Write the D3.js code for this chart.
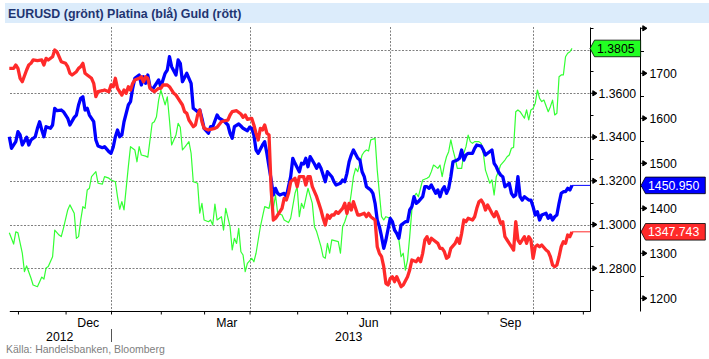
<!DOCTYPE html>
<html><head><meta charset="utf-8">
<script src="https://cdn.jsdelivr.net/npm/d3@7"></script>
<style>
html,body{margin:0;padding:0;background:#fff;}
svg{display:block;font-family:"Liberation Sans",Arial,sans-serif;}
</style></head><body>
<svg id="chart" width="709" height="359"></svg>
<script>
// ---------- DATA ----------
const title = "EURUSD (grönt) Platina (blå) Guld (rött)";
const source = "Källa: Handelsbanken, Bloomberg";
// x = trading day (weekday) count since 2012-10-26
const startDate = new Date(2012, 9, 26);
const axisEndDay = 268.3;

const eurusd = [[0,1.2963],[2,1.2911],[3,1.2967],[4,1.2962],[6,1.2870],[7,1.2785],[8,1.2811],[10,1.2756],[11,1.2724],[13,1.2716],[15,1.2760],[16,1.2751],[17,1.2802],[18,1.2808],[20,1.2853],[21,1.2975],[23,1.2952],[24,1.2945],[25,1.2983],[27,1.3067],[28,1.3090],[30,1.3052],[31,1.2937],[32,1.2945],[33,1.3021],[34,1.3082],[35,1.3074],[36,1.3158],[37,1.3166],[38,1.3219],[40,1.3242],[41,1.3189],[43,1.3185],[44,1.3219],[46,1.3212],[47,1.3204],[49,1.3196],[50,1.3127],[51,1.3070],[52,1.3105],[53,1.3067],[55,1.3265],[56,1.3356],[58,1.3341],[59,1.3287],[60,1.3356],[61,1.3318],[63,1.3313],[64,1.3308],[66,1.3463],[67,1.3470],[68,1.3493],[69,1.3569],[70,1.3615],[72,1.3547],[73,1.3584],[74,1.3478],[75,1.3364],[77,1.3409],[78,1.3463],[79,1.3445],[80,1.3341],[81,1.3353],[83,1.3379],[84,1.3326],[85,1.3196],[87,1.3189],[88,1.3052],[89,1.3097],[90,1.3021],[92,1.3013],[93,1.3021],[94,1.2998],[95,1.3094],[96,1.3021],[98,1.3036],[99,1.2975],[100,1.3074],[102,1.2990],[103,1.2884],[104,1.2937],[105,1.2914],[106,1.2983],[107,1.2876],[108,1.2861],[109,1.2785],[110,1.2823],[112,1.2846],[113,1.2830],[114,1.2869],[116,1.2990],[117,1.3036],[118,1.3082],[120,1.3074],[121,1.3127],[122,1.3074],[123,1.3135],[124,1.3052],[126,1.3044],[127,1.3021],[129,1.3009],[130,1.3029],[132,1.3143],[133,1.3173],[134,1.3036],[135,1.3097],[136,1.3074],[137,1.3120],[138,1.3166],[140,1.3097],[141,1.2990],[142,1.2968],[144,1.2899],[145,1.2853],[146,1.2846],[147,1.2914],[148,1.2869],[149,1.2930],[152,1.2922],[153,1.2869],[154,1.2990],[155,1.3013],[156,1.3044],[157,1.3074],[158,1.3143],[159,1.3219],[160,1.3257],[161,1.3242],[162,1.3280],[163,1.3318],[164,1.3333],[165,1.3341],[166,1.3336],[167,1.3387],[169,1.3394],[170,1.3249],[171,1.3143],[172,1.3036],[173,1.3021],[174,1.3036],[176,1.3029],[177,1.2998],[180,1.2930],[181,1.2853],[182,1.2869],[183,1.2792],[184,1.2838],[185,1.2945],[186,1.3067],[187,1.3127],[188,1.3143],[189,1.3127],[190,1.3166],[191,1.3204],[193,1.3212],[194,1.3219],[195,1.3242],[196,1.3272],[197,1.3265],[198,1.3257],[199,1.3272],[200,1.3219],[201,1.3272],[202,1.3310],[203,1.3333],[204,1.3387],[205,1.3341],[206,1.3303],[207,1.3257],[208,1.3257],[209,1.3257],[210,1.3326],[211,1.3356],[212,1.3409],[213,1.3379],[214,1.3371],[215,1.3379],[217,1.3379],[218,1.3371],[219,1.3326],[220,1.3249],[221,1.3219],[222,1.3189],[223,1.3204],[224,1.3135],[225,1.3219],[226,1.3242],[227,1.3272],[229,1.3295],[230,1.3310],[231,1.3318],[232,1.3349],[233,1.3353],[234,1.3516],[235,1.3524],[236,1.3516],[238,1.3486],[239,1.3524],[240,1.3478],[241,1.3524],[242,1.3531],[243,1.3554],[244,1.3615],[245,1.3577],[246,1.3562],[247,1.3569],[249,1.3516],[250,1.3539],[251,1.3569],[252,1.3501],[253,1.3509],[254,1.3676],[255,1.3684],[256,1.3684],[257,1.3767],[258,1.3783],[259,1.3790],[260,1.3805]];

const platina = [[0,1559.1],[1,1533.3],[3,1548.0],[4,1570.2],[5,1562.9],[6,1540.7],[8,1557.8],[9,1540.7],[10,1551.8],[12,1559.1],[13,1577.8],[14,1592.4],[15,1574.0],[16,1559.1],[17,1581.3],[19,1577.8],[20,1585.1],[21,1622.2],[22,1616.9],[24,1618.4],[25,1614.7],[27,1600.0],[28,1585.1],[30,1602.2],[31,1607.3],[32,1629.6],[33,1644.4],[34,1648.0],[35,1618.4],[36,1622.2],[37,1607.3],[39,1592.4],[40,1551.8],[41,1538.4],[43,1534.7],[44,1536.9],[46,1525.8],[47,1522.2],[48,1535.6],[49,1559.1],[50,1574.0],[51,1559.1],[52,1562.9],[53,1592.4],[55,1629.6],[56,1636.9],[57,1666.7],[58,1688.9],[60,1696.2],[61,1674.0],[62,1692.4],[63,1677.8],[64,1696.2],[65,1670.2],[66,1662.9],[67,1670.2],[69,1685.1],[70,1670.2],[71,1685.1],[72,1700.0],[73,1707.3],[74,1736.9],[75,1714.7],[77,1696.2],[78,1729.6],[79,1722.2],[80,1681.3],[82,1700.0],[84,1677.8],[85,1622.2],[87,1614.7],[88,1618.4],[89,1600.0],[90,1577.8],[92,1566.7],[93,1581.3],[94,1581.3],[96,1607.3],[97,1600.0],[99,1594.7],[101,1585.1],[102,1566.7],[103,1555.6],[104,1581.3],[106,1587.3],[107,1582.9],[108,1577.8],[110,1572.4],[111,1580.0],[112,1577.8],[113,1562.9],[114,1529.6],[115,1522.2],[117,1540.7],[118,1548.0],[119,1522.2],[120,1492.4],[121,1462.9],[122,1429.6],[123,1444.4],[124,1433.3],[125,1429.6],[127,1433.3],[128,1425.8],[129,1448.0],[130,1470.2],[131,1511.1],[132,1500.0],[134,1481.3],[135,1500.0],[136,1498.4],[137,1511.1],[138,1492.4],[139,1514.7],[141,1498.4],[142,1488.9],[143,1498.4],[144,1488.9],[145,1474.0],[146,1459.1],[147,1481.3],[149,1470.2],[150,1459.1],[151,1451.8],[153,1455.6],[154,1462.9],[155,1459.1],[156,1477.8],[157,1503.6],[158,1518.4],[159,1529.6],[161,1511.1],[162,1507.3],[163,1481.3],[164,1470.2],[165,1448.0],[166,1444.4],[167,1440.7],[168,1433.3],[169,1411.1],[170,1374.0],[171,1359.1],[172,1336.9],[173,1311.1],[174,1329.6],[176,1377.8],[177,1370.2],[178,1351.8],[179,1344.4],[180,1333.3],[181,1362.9],[183,1370.2],[184,1370.2],[185,1396.2],[186,1403.6],[187,1425.8],[188,1411.1],[189,1414.7],[191,1425.8],[192,1448.0],[193,1448.0],[194,1444.4],[195,1451.8],[197,1433.3],[198,1440.7],[199,1425.8],[200,1440.7],[201,1448.0],[202,1433.3],[203,1444.4],[204,1470.2],[205,1503.6],[207,1507.3],[208,1511.1],[209,1529.6],[210,1507.3],[211,1518.4],[212,1522.2],[214,1522.2],[215,1533.3],[216,1540.7],[218,1538.4],[219,1529.6],[220,1518.4],[221,1522.2],[223,1529.6],[224,1500.0],[225,1492.4],[226,1481.3],[227,1474.0],[228,1470.2],[229,1448.0],[231,1455.6],[232,1433.3],[233,1425.8],[234,1429.6],[235,1470.2],[236,1425.8],[237,1418.4],[238,1425.8],[240,1418.4],[241,1418.4],[242,1403.6],[243,1385.1],[244,1392.4],[245,1374.0],[246,1385.1],[248,1388.9],[249,1377.8],[250,1385.1],[251,1374.0],[252,1381.3],[253,1385.1],[254,1411.1],[255,1433.3],[256,1436.9],[257,1436.9],[258,1444.4],[259,1440.7],[260,1450.95]];

const guld = [[0,1711.1],[2,1711.1],[3,1718.4],[4,1711.1],[5,1688.9],[6,1681.3],[8,1707.3],[9,1718.4],[10,1722.2],[11,1729.6],[13,1728.0],[15,1729.6],[16,1718.4],[17,1733.3],[18,1729.6],[20,1736.9],[21,1751.8],[22,1748.0],[23,1736.9],[24,1725.8],[26,1722.2],[27,1714.7],[28,1700.0],[29,1696.2],[31,1703.6],[32,1711.1],[33,1714.7],[34,1722.2],[35,1700.0],[36,1696.2],[38,1688.9],[39,1677.8],[40,1648.0],[41,1659.1],[43,1661.3],[44,1662.9],[46,1659.1],[47,1674.0],[48,1670.2],[49,1688.9],[50,1666.7],[52,1651.8],[53,1662.9],[54,1655.6],[55,1670.2],[56,1662.9],[57,1677.8],[58,1685.1],[60,1688.9],[61,1692.4],[62,1681.3],[63,1692.4],[64,1688.9],[65,1666.7],[67,1659.1],[68,1662.9],[69,1666.7],[70,1666.7],[71,1674.0],[73,1674.0],[74,1670.2],[76,1655.6],[77,1651.8],[78,1644.4],[80,1629.6],[81,1614.7],[82,1611.1],[83,1596.2],[85,1581.3],[86,1585.1],[87,1607.3],[88,1618.4],[89,1592.4],[90,1577.8],[92,1574.0],[93,1575.6],[95,1577.8],[96,1580.0],[98,1592.4],[99,1594.0],[101,1596.2],[102,1607.3],[103,1614.7],[105,1616.9],[107,1609.6],[108,1602.2],[109,1607.3],[110,1597.8],[112,1600.0],[113,1585.1],[114,1566.7],[115,1551.8],[116,1577.8],[117,1574.0],[118,1585.1],[119,1566.7],[120,1562.9],[121,1440.7],[122,1374.0],[123,1377.8],[124,1385.1],[126,1400.0],[127,1422.2],[128,1418.4],[129,1433.3],[130,1459.1],[131,1462.9],[132,1466.7],[133,1448.0],[134,1470.2],[136,1470.2],[137,1451.8],[138,1470.2],[139,1470.2],[140,1448.0],[142,1425.8],[143,1411.1],[144,1396.2],[145,1377.8],[146,1362.9],[147,1385.1],[148,1377.8],[149,1385.1],[150,1385.1],[151,1392.4],[152,1388.9],[154,1400.0],[155,1411.1],[156,1388.9],[157,1411.1],[158,1396.2],[159,1414.7],[161,1385.1],[162,1385.1],[164,1388.9],[165,1381.3],[166,1388.9],[167,1381.3],[169,1374.0],[170,1314.7],[171,1300.0],[172,1292.4],[173,1270.2],[174,1233.3],[175,1229.6],[176,1244.0],[177,1248.0],[178,1236.9],[179,1248.0],[181,1225.8],[182,1229.6],[184,1248.0],[185,1262.9],[186,1285.1],[188,1281.3],[189,1288.9],[190,1281.3],[191,1300.0],[192,1329.6],[193,1336.9],[194,1322.2],[195,1333.3],[196,1329.6],[198,1322.2],[199,1311.1],[200,1311.1],[201,1303.6],[202,1288.9],[203,1292.4],[204,1311.1],[206,1322.2],[207,1333.3],[208,1322.2],[209,1344.4],[210,1374.0],[211,1370.2],[212,1377.8],[214,1374.0],[215,1381.3],[216,1400.0],[217,1414.7],[218,1418.4],[219,1411.1],[220,1396.2],[221,1407.3],[223,1388.9],[224,1381.3],[225,1392.4],[226,1381.3],[227,1366.7],[228,1370.2],[229,1336.9],[230,1329.6],[231,1322.2],[232,1314.7],[233,1307.3],[234,1370.2],[235,1329.6],[236,1322.2],[238,1336.9],[239,1322.2],[240,1336.9],[241,1329.6],[242,1288.9],[243,1314.7],[244,1318.4],[245,1314.7],[246,1318.4],[248,1307.3],[249,1303.6],[250,1292.4],[251,1274.0],[252,1270.2],[253,1274.0],[254,1292.4],[255,1314.7],[256,1325.8],[257,1322.2],[258,1340.7],[259,1336.9],[260,1347.743]];

const eurTicks = [1.28, 1.30, 1.32, 1.34, 1.36, 1.38];
const eurLabelTicks = [1.28, 1.30, 1.32, 1.34, 1.36];
const eurMinorTicks = [1.27, 1.29, 1.31, 1.33, 1.35, 1.37, 1.39];
const metalTicks = [1200, 1300, 1400, 1500, 1600, 1700, 1800];
const metalLabelTicks = [1200, 1300, 1400, 1500, 1600, 1700];
const metalMinorTicks = [1250, 1350, 1450, 1550, 1650, 1750];
const monthLabelKeys = ["2012-11", "2013-2", "2013-5", "2013-8"]; // year-monthIndex
const monthLabelText = ["Dec", "Mar", "Jun", "Sep"];
const gridMonthKeys = ["2013-0", "2013-3", "2013-6", "2013-9"];
const yearLabels = ["2012", "2013"];

// ---------- LAYOUT ----------
const svg = d3.select("#chart");
const plot = {left: 9.3, right: 590, top: 27, bottom: 311};
const axis2X = 640;
const x = d3.scaleLinear().domain([0, axisEndDay]).range([plot.left, plot.right]);
const yE = d3.scaleLinear().domain([1.2605, 1.3903]).range([plot.bottom, plot.top]);
const yM = d3.scaleLinear().domain([1171.8, 1802.9]).range([plot.bottom, plot.top]);

// weekday calendar
const weekdays = [];
for (let d = new Date(startDate); d <= new Date(2013, 11, 31); d.setDate(d.getDate() + 1)) {
  const wd = d.getDay();
  if (wd !== 0 && wd !== 6) weekdays.push(new Date(d));
}
const monthStarts = [];
weekdays.forEach((d, i) => {
  if (i > 0 && d.getMonth() !== weekdays[i - 1].getMonth())
    monthStarts.push({key: d.getFullYear() + "-" + d.getMonth(), i});
});
const visibleStarts = monthStarts.filter(m => m.i <= axisEndDay);

// title band
svg.append("rect").attr("x", 5).attr("y", 3).attr("width", 704).attr("height", 20).attr("fill", "#dcecfb");
svg.append("text").attr("x", 8).attr("y", 17.5).attr("font-size", 12.4).attr("font-weight", "bold")
  .attr("fill", "#1f3571").text(title);

// grid
const grid = svg.append("g").attr("stroke", "#808080").attr("stroke-width", 1).attr("stroke-dasharray", "2,1.5");
grid.selectAll("line.h").data(eurTicks).join("line").attr("class", "h")
  .attr("x1", 10).attr("x2", plot.right).attr("y1", d => Math.round(yE(d)) + 0.5).attr("y2", d => Math.round(yE(d)) + 0.5);
grid.selectAll("line.v").data(visibleStarts.filter(m => gridMonthKeys.includes(m.key))).join("line").attr("class", "v")
  .attr("x1", d => Math.round(x(d.i)) + 0.5).attr("x2", d => Math.round(x(d.i)) + 0.5)
  .attr("y1", plot.top).attr("y2", plot.bottom);

// series
const lineE = d3.line().x(d => x(d[0])).y(d => yE(d[1]));
const lineM = d3.line().x(d => x(d[0])).y(d => yM(d[1]));
svg.append("path").datum(eurusd).attr("d", lineE).attr("fill", "none").attr("stroke", "#33ff33").attr("stroke-width", 1.2).attr("stroke-linejoin", "round");
svg.append("path").datum(platina).attr("d", lineM).attr("fill", "none").attr("stroke", "#0000ff").attr("stroke-width", 3.3).attr("stroke-linejoin", "round");
svg.append("path").datum(guld).attr("d", lineM).attr("fill", "none").attr("stroke", "#ff2a2a").attr("stroke-width", 3.3).attr("stroke-linejoin", "round");

// last-value extensions
const lastP = platina[platina.length - 1], lastG = guld[guld.length - 1], lastE = eurusd[eurusd.length - 1];
svg.append("line").attr("x1", x(lastP[0])).attr("x2", plot.right).attr("y1", yM(lastP[1])).attr("y2", yM(lastP[1])).attr("stroke", "#0000ff").attr("stroke-width", 1);
svg.append("line").attr("x1", x(lastG[0])).attr("x2", plot.right).attr("y1", yM(lastG[1])).attr("y2", yM(lastG[1])).attr("stroke", "#ff2a2a").attr("stroke-width", 1);

// x axis
const xAxis = d3.axisBottom(x).tickValues(visibleStarts.map(m => m.i)).tickSize(3.5).tickSizeOuter(0).tickFormat("");
const gx = svg.append("g").attr("transform", `translate(0,${plot.bottom})`).call(xAxis);
gx.select(".domain").attr("stroke", "#000");
gx.selectAll(".tick line").attr("stroke", "#000");

const fontAx = 12.3;
visibleStarts.forEach((m, k) => {
  const idx = monthLabelKeys.indexOf(m.key);
  if (idx < 0) return;
  const next = monthStarts.find(n => n.i > m.i);
  svg.append("text").attr("x", x((m.i + next.i) / 2)).attr("y", 326.5).attr("text-anchor", "middle")
    .attr("font-size", fontAx).attr("fill", "#000").text(monthLabelText[idx]);
});
const yearStart = monthStarts.find(m => m.key === "2013-0");
const xSep = Math.round(x(yearStart.i)) + 0.5;
svg.append("line").attr("x1", xSep).attr("x2", xSep).attr("y1", 329).attr("y2", 342).attr("stroke", "#555");
svg.append("text").attr("x", (10 + xSep) / 2 - 1).attr("y", 340.5).attr("text-anchor", "middle").attr("font-size", fontAx).text(yearLabels[0]);
svg.append("text").attr("x", (xSep + plot.right) / 2 - 2).attr("y", 340.5).attr("text-anchor", "middle").attr("font-size", fontAx).text(yearLabels[1]);

// source
svg.append("text").attr("x", 6).attr("y", 352.5).attr("font-size", 10.5).attr("fill", "#808080").text(source);

// right axes
function arrowTicks(g, scale, values) {
  g.selectAll("path.arr").data(values).join("path").attr("class", "arr")
    .attr("d", d => { const y = scale(d); return `M0,${y}H3.5M2.8,${y - 2.6}L7,${y}L2.8,${y + 2.6}Z`; })
    .attr("stroke", "#000").attr("stroke-width", 1).attr("fill", "#000");
}
function minorTicks(g, scale, values, len) {
  g.selectAll("line.mn").data(values).join("line").attr("class", "mn")
    .attr("x1", 0).attr("x2", len).attr("y1", d => Math.round(scale(d)) + 0.5).attr("y2", d => Math.round(scale(d)) + 0.5)
    .attr("stroke", "#000");
}
const gE = svg.append("g").attr("transform", `translate(${plot.right},0)`)
  .call(d3.axisRight(yE).tickValues(eurLabelTicks).tickFormat(d3.format(".4f")).tickSize(0).tickSizeOuter(0).tickPadding(8.5));
gE.select(".domain").attr("stroke", "#000");
gE.selectAll("text").attr("font-size", fontAx).attr("font-family", "Liberation Sans, Arial, sans-serif").attr("fill", "#000");
arrowTicks(gE, yE, eurTicks);
minorTicks(gE, yE, eurMinorTicks, 3.5);

const gM = svg.append("g").attr("transform", `translate(${axis2X},0)`)
  .call(d3.axisRight(yM).tickValues(metalLabelTicks).tickFormat(d3.format("d")).tickSize(0).tickSizeOuter(0).tickPadding(9.5));
gM.select(".domain").attr("stroke", "#000");
gM.selectAll("text").attr("font-size", fontAx).attr("font-family", "Liberation Sans, Arial, sans-serif").attr("fill", "#000");
arrowTicks(gM, yM, metalTicks);
minorTicks(gM, yM, metalMinorTicks, 4);

// value tags
function tag(xTip, yc, fill, color, text) {
  const g = svg.append("g");
  const t = g.append("text").attr("x", xTip + 7).attr("y", yc).attr("dy", "0.36em")
    .attr("font-size", fontAx).attr("fill", color).text(text);
  const w = t.node().getComputedTextLength() + 13;
  const h = 8.3, n = 4.5;
  g.insert("path", "text").attr("d", `M${xTip},${yc}L${xTip + n},${yc - h}H${xTip + w}V${yc + h}H${xTip + n}Z`)
    .attr("fill", fill).attr("stroke", "#000").attr("stroke-width", 0.8);
}
tag(plot.right, yE(lastE[1]), "#22ff22", "#000", d3.format(".4f")(lastE[1]));
tag(axis2X + 1, yM(lastP[1]), "#0000ff", "#fff", d3.format(".3f")(lastP[1]));
tag(axis2X + 1, yM(lastG[1]), "#ff2a2a", "#fff", d3.format(".3f")(lastG[1]));
</script>
</body></html>
